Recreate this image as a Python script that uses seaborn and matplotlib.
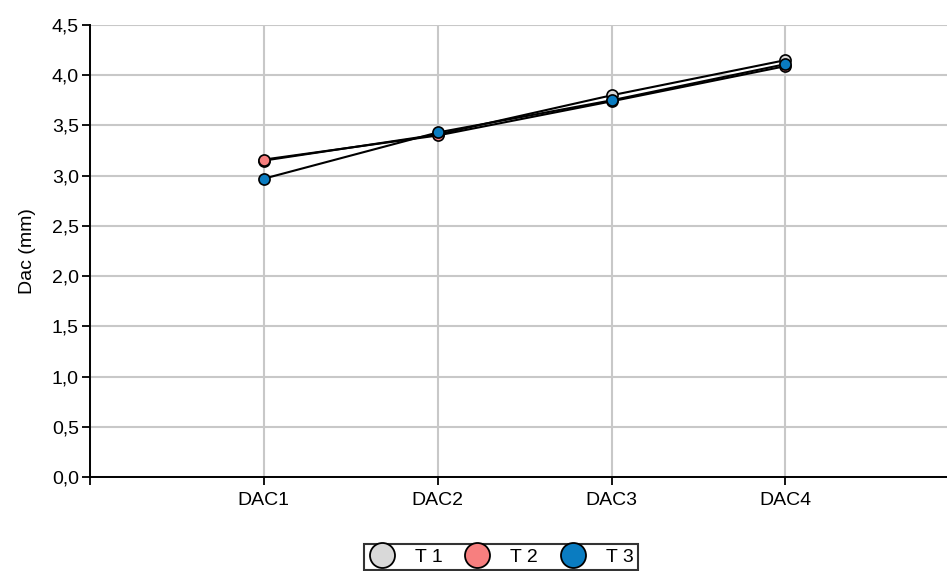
import pandas as pd
import seaborn as sns
import matplotlib.pyplot as plt
from matplotlib.lines import Line2D
from matplotlib.ticker import FuncFormatter

stages = ['DAC1', 'DAC2', 'DAC3', 'DAC4']
t1 = [3.15, 3.41, 3.80, 4.15]
t2 = [3.16, 3.40, 3.74, 4.09]
t3 = [2.97, 3.43, 3.75, 4.11]
labels = ['T 1', 'T 2', 'T 3']
colors = ['#d9d9d9', '#f77f7f', '#0a7cc1']

rows = []
for name, vals in zip(labels, [t1, t2, t3]):
    for i, v in enumerate(vals):
        rows.append({'pos': i, 'stage': stages[i], 'Dac': v, 'trat': name})
df = pd.DataFrame(rows)

sns.set_style("white")
plt.rcParams['font.family'] = ['Liberation Sans', 'DejaVu Sans']
plt.rcParams['text.color'] = 'black'

fig = plt.figure(figsize=(9.47, 5.71), dpi=100)
ax = fig.add_axes([90 / 947, 1 - 477 / 571, 857 / 947, 452 / 571])

for name, col in zip(labels, colors):
    sub = df[df['trat'] == name]
    sns.lineplot(x='pos', y='Dac', data=sub, color='black', linewidth=1.5,
                 marker='o', markersize=8, markerfacecolor=col,
                 markeredgecolor='black', markeredgewidth=1.2, ax=ax, legend=False)

ax.set_xlim(-0.994, 3.93)
ax.set_ylim(0, 4.5)
ax.set_xticks([-1, 0, 1, 2, 3])
ax.set_xticklabels([''] + stages)
ax.set_yticks([i * 0.5 for i in range(10)])
ax.yaxis.set_major_formatter(FuncFormatter(lambda v, p: f'{v:.1f}'.replace('.', ',')))
ax.set_xlabel('')
ax.set_ylabel('Dac (mm)', fontsize=14, color='black', labelpad=11)
ax.tick_params(axis='both', labelsize=14, labelcolor='black', direction='out',
               length=6, width=1.3, color='black', left=True, bottom=True)
ax.tick_params(axis='y', pad=2)
ax.tick_params(axis='x', pad=5)
ax.grid(True, color='#c8c8c8', linewidth=1.5)
ax.set_axisbelow(True)
for s in ['top', 'right']:
    ax.spines[s].set_visible(False)
for s in ['left', 'bottom']:
    ax.spines[s].set_color('black')
    ax.spines[s].set_linewidth(1.4)

handles = [Line2D([], [], linestyle='none', marker='o', markersize=18,
                  markerfacecolor=c, markeredgecolor='black', markeredgewidth=1.3)
           for c in colors]
leg = fig.legend(handles, labels, loc='center', bbox_to_anchor=(501 / 947, 1 - 557 / 571),
                 ncol=3, frameon=True, fancybox=False, fontsize=14, handletextpad=1.0,
                 columnspacing=1.1, borderpad=0.2, handlelength=1.4)
leg.get_frame().set_edgecolor('black')
leg.get_frame().set_linewidth(1.5)

fig.savefig('out.png', dpi=100)
